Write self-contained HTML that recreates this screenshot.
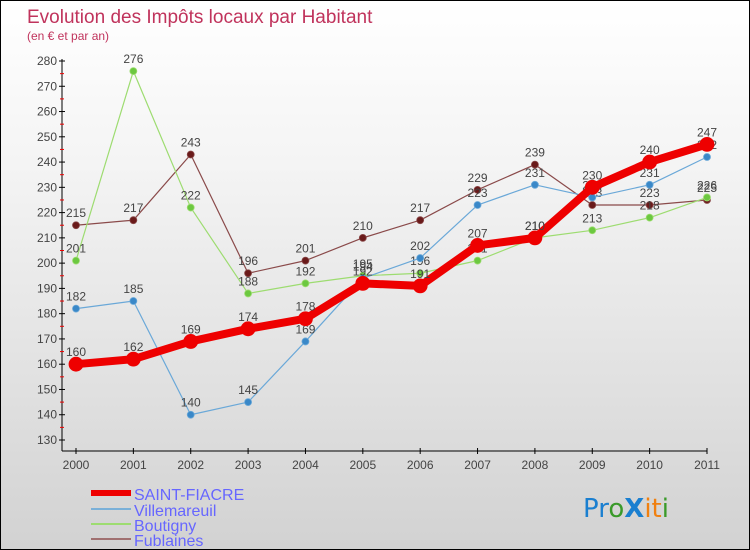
<!DOCTYPE html>
<html><head><meta charset="utf-8"><style>
body{margin:0}
#c{width:748px;height:548px;border:1px solid #000;background:linear-gradient(#fff,#f4f4f4 30%,#d2d2d2);position:relative;overflow:hidden;font-family:"Liberation Sans",sans-serif}
</style></head><body>
<div id="c">
<svg id="s" width="748" height="548" style="position:absolute;left:0;top:0">
<text x="26" y="22" font-size="19" fill="#c0335c">Evolution des Impôts locaux par Habitant</text>
<text x="26" y="39" font-size="12" fill="#c0335c">(en € et par an)</text>
<g id="ax"></g><g id="ser"></g>
<g font-size="16" fill="#6666ff">
<rect x="90" y="489" width="40" height="6" fill="#e00"/>
<text x="133" y="499">SAINT-FIACRE</text>
<rect x="90" y="507" width="40" height="2" fill="#7ab0d8"/>
<text x="133" y="515">Villemareuil</text>
<rect x="90" y="522" width="40" height="2" fill="#9ddc70"/>
<text x="133" y="530">Boutigny</text>
<rect x="90" y="537" width="40" height="2" fill="#a07070"/>
<text x="133" y="545">Fublaines</text>
</g>
<text x="582" y="516" font-size="26" font-family="'DejaVu Sans',sans-serif"><tspan fill="#1a7fd0">Pr</tspan><tspan fill="#3a9a2a">o</tspan><tspan fill="#1a7fd0" font-weight="bold">X</tspan><tspan fill="#f08010">it</tspan><tspan fill="#3a9a2a">i</tspan></text>
</svg>
</div>
<script>
const years=["2000","2001","2002","2003","2004","2005","2006","2007","2008","2009","2010","2011"];
const yTicks=[130,140,150,160,170,180,190,200,210,220,230,240,250,260,270,280];
const saintFiacre=[160,162,169,174,178,192,191,207,210,230,240,247];
const villemareuil=[182,185,140,145,169,194,202,223,231,226,231,242];
const boutigny=[201,276,222,188,192,195,196,201,210,213,218,226];
const fublaines=[215,217,243,196,201,210,217,229,239,223,223,225];
const NS="http://www.w3.org/2000/svg";
const X=i=>75+i*(631/11);
const Y=v=>439-(v-130)*(379/150);
function mk(t,a,p){const e=document.createElementNS(NS,t);for(const k in a)e.setAttribute(k,a[k]);p.appendChild(e);return e;}
const ax=document.getElementById('ax');
let l=mk('line',{x1:61,y1:Y(280)-2,x2:61,y2:450,stroke:'#000'},ax);


l=mk('line',{x1:61,y1:450,x2:706,y2:450,stroke:'#000'},ax);


yTicks.forEach(v=>{
 mk('line',{x1:58,x2:64,y1:Y(v),y2:Y(v),stroke:'#000'},ax);
 if(v<280) mk('line',{x1:59,x2:63,y1:Y(v+5),y2:Y(v+5),stroke:'#e00'},ax);
 const t=mk('text',{x:56,y:Y(v)+4,'font-size':12,fill:'#444','text-anchor':'end'},ax);t.textContent=v;
 
 
});
years.forEach((y,i)=>{
 mk('line',{x1:X(i),x2:X(i),y1:447,y2:453,stroke:'#000'},ax);
 const t=mk('text',{x:X(i),y:468,'font-size':12,fill:'#444','text-anchor':'middle'},ax);t.textContent=y;
 
 
});
const ser=document.getElementById('ser');
function draw(name,vals,color,dot,w,r){
 const g=mk('g',{},ser);
 
 
 const p=mk('polyline',{points:vals.map((v,i)=>X(i)+','+Y(v)).join(' '),fill:'none',stroke:color,'stroke-width':w,'stroke-linejoin':'round'},g);
 
 
 vals.forEach((v,i)=>{
  const c=mk('circle',{cx:X(i),cy:Y(v),r:r,fill:dot,stroke:color,'stroke-width':0.8},g);
  
  
  const t=mk('text',{x:X(i),y:Y(v)-8,'font-size':12,fill:'#444','text-anchor':'middle'},g);t.textContent=v;
  
  
 });
}
draw('fublaines',fublaines,'#8a4a4a','#6a1a1a',1.2,3.5);
draw('boutigny',boutigny,'#9ddc70','#6cc840',1.2,3.5);
draw('villemareuil',villemareuil,'#6aa8d8','#3a88c8',1.2,3.5);
draw('saint-fiacre',saintFiacre,'#ee0000','#ee0000',8,7);
</script>
</body></html>
